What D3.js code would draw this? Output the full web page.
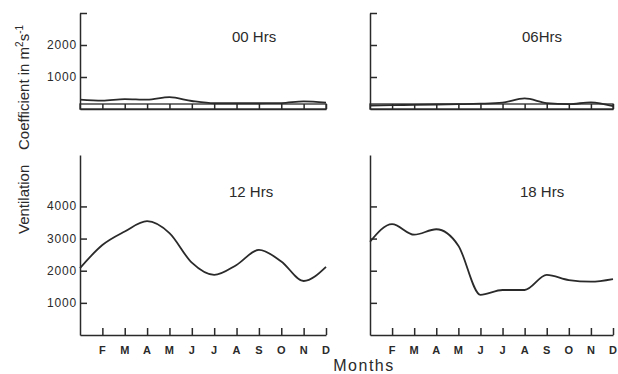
<!DOCTYPE html>
<html>
<head>
<meta charset="utf-8">
<script src="https://cdn.jsdelivr.net/npm/d3@7"></script>
<style>
  body { margin: 0; background: #fff; }
  text { font-family: "Liberation Sans", Arial, sans-serif; fill: #2a2a2a; }
</style>
</head>
<body>
<svg id="chart" width="618" height="374"></svg>
<script>
// monthly ventilation coefficient (m2 s-1), Jan..Dec
const months = ["J", "F", "M", "A", "M", "J", "J", "A", "S", "O", "N", "D"];
const hrs00 = [290, 260, 310, 290, 370, 250, 180, 180, 180, 185, 240, 200];
const hrs06 = [110, 120, 130, 140, 150, 165, 200, 330, 185, 150, 210, 90];
const hrs12 = [2080, 2800, 3220, 3540, 3170, 2250, 1870, 2180, 2650, 2290, 1680, 2120];
const hrs18 = [2900, 3450, 3120, 3290, 2780, 1250, 1400, 1400, 1870, 1710, 1660, 1740];

const topTicks = [1000, 2000, 3000];
const topTickLabels = ["1000", "2000", ""];
const bottomTicks = [1000, 2000, 3000, 4000];
const bottomTickLabels = ["1000", "2000", "3000", "4000"];

const cols = { left: [80, 326], right: [370, 613] };
const rows = {
  top: { domain: [0, 3000], range: [109, 13], ticks: topTicks, labels: topTickLabels, labelY: 42 },
  bottom: { domain: [0, 5600], range: [335, 155], ticks: bottomTicks, labels: bottomTickLabels, labelY: 197 }
};

const panels = [
  { name: "00 Hrs", values: hrs00, row: "top", col: "left", lx: 232 },
  { name: "06Hrs", values: hrs06, row: "top", col: "right", lx: 522 },
  { name: "12 Hrs", values: hrs12, row: "bottom", col: "left", lx: 229 },
  { name: "18 Hrs", values: hrs18, row: "bottom", col: "right", lx: 520 }
];

const svg = d3.select("#chart");
const ink = "#2a2a2a";

panels.forEach(p => {
  const r = rows[p.row];
  const x = d3.scaleLinear().domain([0, months.length - 1]).range(cols[p.col]);
  const y = d3.scaleLinear().domain(r.domain).range(r.range);
  const g = svg.append("g");

  // y axis, ticks pointing inward
  g.append("g")
    .attr("transform", "translate(" + x(0) + ",0)")
    .call(d3.axisRight(y).tickValues(r.ticks).tickSize(7).tickSizeOuter(0).tickFormat(""));

  // x axis, ticks pointing up
  g.append("g")
    .attr("transform", "translate(0," + y(0) + ")")
    .call(d3.axisTop(x).tickValues(d3.range(1, months.length)).tickSize(p.row === "top" ? 5 : 7).tickSizeOuter(0).tickFormat(""));

  g.selectAll(".domain, .tick line").attr("stroke", ink).attr("stroke-width", 1.5);

  if (p.row === "top") {
    // little ruler strip along the base
    g.append("rect")
      .attr("x", x(0)).attr("y", y(0) - 5)
      .attr("width", x(months.length - 1) - x(0)).attr("height", 5)
      .attr("fill", "none").attr("stroke", ink).attr("stroke-width", 1.3);
  }

  if (p.col === "left") {
    g.selectAll(".ylab").data(r.ticks).enter()
      .append("text")
      .attr("x", x(0) - 3)
      .attr("y", d => y(d) + 4)
      .attr("text-anchor", "end")
      .style("font-size", "12px")
      .style("letter-spacing", "0.8px")
      .text((d, i) => r.labels[i]);
  }

  if (p.row === "bottom") {
    g.selectAll(".mlab").data(months.slice(1)).enter()
      .append("text")
      .attr("x", (d, i) => x(i + 1))
      .attr("y", 354)
      .attr("text-anchor", "middle")
      .style("font-size", "11px")
      .style("font-weight", "bold")
      .text(d => d);
  }

  const line = d3.line()
    .x((d, i) => x(i))
    .y(d => y(d))
    .curve(d3.curveMonotoneX);

  g.append("path")
    .datum(p.values)
    .attr("d", line)
    .attr("fill", "none")
    .attr("stroke", ink)
    .attr("stroke-width", 1.8);

  g.append("text")
    .attr("x", p.lx)
    .attr("y", r.labelY)
    .style("font-size", "15px")
    .text(p.name);
});

// y title, rotated
svg.append("text")
  .attr("transform", "translate(29,234) rotate(-90)")
  .style("font-size", "15px")
  .text("Ventilation");

const coef = svg.append("text")
  .attr("transform", "translate(29,150) rotate(-90)")
  .style("font-size", "15px");
coef.append("tspan").text("Coefficient in m");
coef.append("tspan").attr("dy", -6).style("font-size", "10px").text("2");
coef.append("tspan").attr("dy", 6).text("s");
coef.append("tspan").attr("dy", -6).style("font-size", "10px").text("-1");

svg.append("text")
  .attr("x", 364)
  .attr("y", 371)
  .attr("text-anchor", "middle")
  .style("font-size", "16px")
  .style("letter-spacing", "1.5px")
  .text("Months");
</script>
</body>
</html>
